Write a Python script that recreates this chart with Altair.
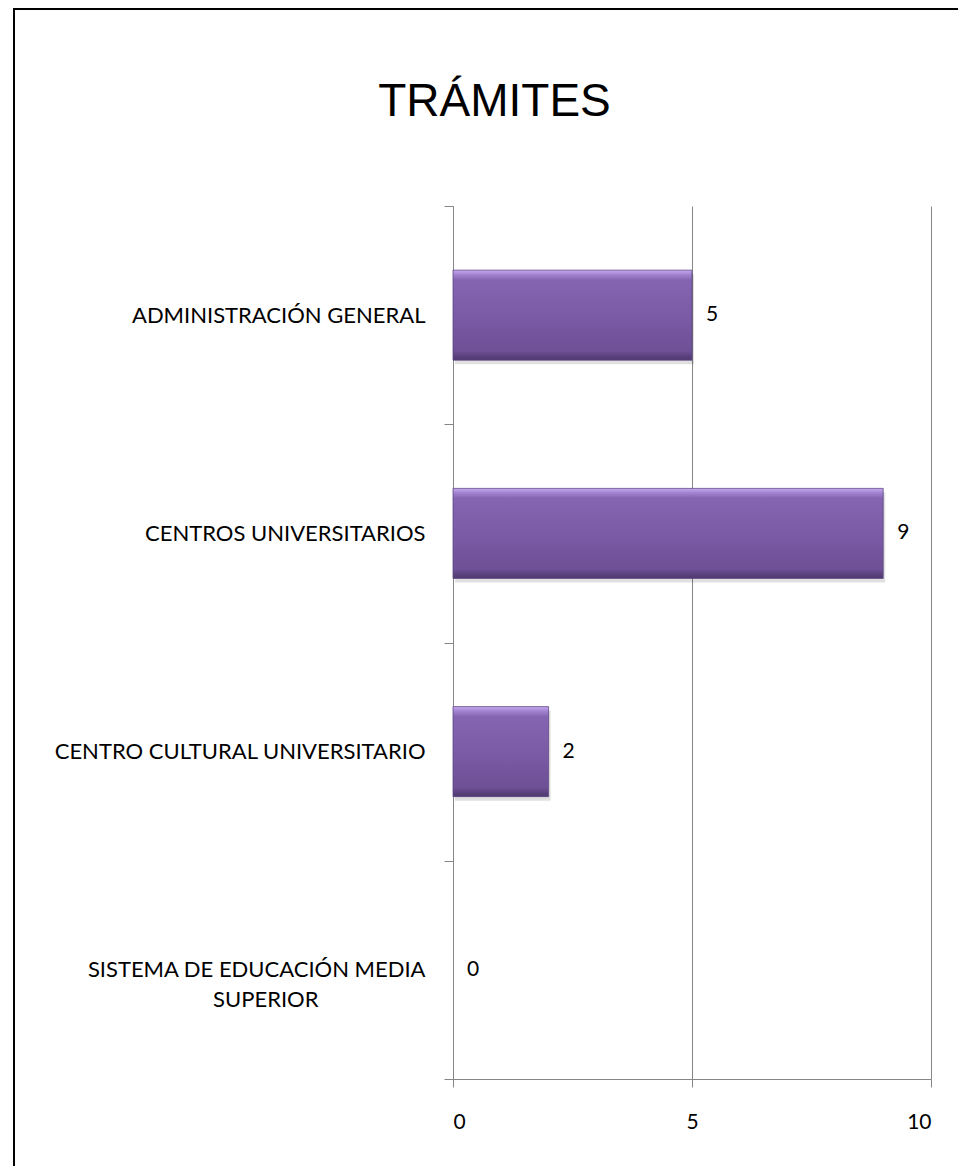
import altair as alt
import pandas as pd

categories = [
    "ADMINISTRACIÓN GENERAL",
    "CENTROS UNIVERSITARIOS",
    "CENTRO CULTURAL UNIVERSITARIO",
    "SISTEMA DE EDUCACIÓN MEDIA SUPERIOR",
]
values = [5, 9, 2, 0]
x_ticks = [0, 5, 10]
title_text = "TRÁMITES"

df = pd.DataFrame({"categoria": categories, "tramites": values})

W, H = 478, 873
LBL_FONT = "Lato"
LBL_SIZE = 22
GRAY = "#868686"

# trailing no-break spaces (kept from trimming by a zero-width space) centre the 2nd line
NB = "\u00a0" * 19 + "\u200b"
label_expr = (
    "datum.label == 'SISTEMA DE EDUCACIÓN MEDIA SUPERIOR' ? "
    "['SISTEMA DE EDUCACIÓN MEDIA', 'SUPERIOR" + NB + "'] : datum.label"
)

y_enc = alt.Y(
    "categoria:N",
    sort=categories,
    scale=alt.Scale(paddingInner=0, paddingOuter=0),
    axis=alt.Axis(
        title=None,
        tickBand="extent",
        labelExpr=label_expr,
        labelFont=LBL_FONT,
        labelFontSize=LBL_SIZE,
        labelColor="#000000",
        labelPadding=19,
        labelLimit=440,
        labelLineHeight=30,
        labelAlign="right",
        tickSize=9,
        tickColor=GRAY,
        domainColor=GRAY,
        grid=False,
    ),
)
x_enc = alt.X(
    "tramites:Q",
    scale=alt.Scale(domain=[0, 10], nice=False),
    axis=alt.Axis(
        title=None,
        values=x_ticks,
        grid=True,
        gridColor=GRAY,
        gridOpacity=1,
        tickSize=8,
        tickColor=GRAY,
        domainColor=GRAY,
        labelFont=LBL_FONT,
        labelFontSize=21,
        labelColor="#000000",
        labelPadding=24,
    ),
)

grad = alt.Gradient(
    gradient="linear",
    x1=0, x2=0, y1=0, y2=1,
    stops=[
        alt.GradientStop(color="#c6a8f2", offset=0),
        alt.GradientStop(color="#a283d0", offset=0.05),
        alt.GradientStop(color="#8565b2", offset=0.11),
        alt.GradientStop(color="#7b5ba5", offset=0.5),
        alt.GradientStop(color="#6e5096", offset=0.9),
        alt.GradientStop(color="#5c4380", offset=0.95),
        alt.GradientStop(color="#4f386f", offset=1),
    ],
)

nonzero = "datum.tramites > 0"
base = alt.Chart(df)

shadow = base.mark_bar(size=90, color="#000000", xOffset=2, yOffset=4).encode(
    x=x_enc,
    y=y_enc,
    opacity=alt.condition(nonzero, alt.value(0.12), alt.value(0)),
)
bars = base.mark_bar(size=90, color=grad, stroke="#5e4787", strokeWidth=0.8).encode(
    x=x_enc,
    y=y_enc,
    strokeOpacity=alt.condition(nonzero, alt.value(1), alt.value(0)),
)
labels = base.mark_text(
    align="left", baseline="middle", dx=14, font=LBL_FONT, fontSize=21, color="#000000"
).encode(x="tramites:Q", y=alt.Y("categoria:N", sort=categories), text="tramites:Q")

frame_df = pd.DataFrame({"f": [0]})
frame_left = alt.Chart(frame_df).mark_rule(color="#000000", strokeWidth=2).encode(
    x=alt.value(-439), y=alt.value(-197), y2=alt.value(960)
)
frame_top = alt.Chart(frame_df).mark_rule(color="#000000", strokeWidth=2).encode(
    x=alt.value(-440), x2=alt.value(505), y=alt.value(-197)
)

chart = (
    alt.layer(frame_left, frame_top, shadow, bars, labels)
    .properties(
        width=W,
        height=H,
        padding={"left": 4, "top": 0, "right": 0, "bottom": 0},
        title=alt.TitleParams(
            title_text,
            font="Liberation Sans",
            fontSize=46,
            fontWeight="normal",
            color="#000000",
            anchor="middle",
            frame="bounds",
            offset=-118,
            dx=9,
        ),
    )
    .configure_view(stroke=None)
)

chart.save("out.html", embed_options={"renderer": "svg", "actions": False})
